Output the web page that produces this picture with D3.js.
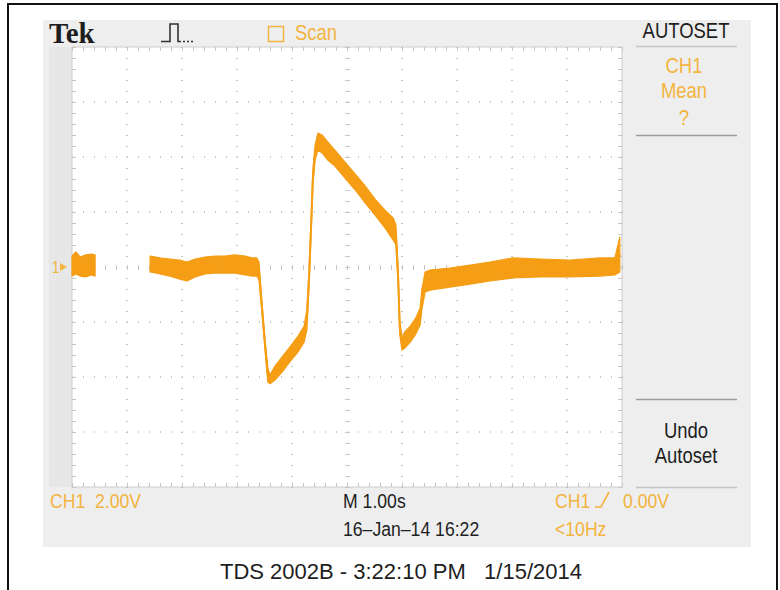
<!DOCTYPE html>
<html>
<head>
<meta charset="utf-8">
<script src="https://cdn.jsdelivr.net/npm/d3@7"></script>
<style>
  html, body { margin: 0; padding: 0; background: #fff; }
  svg { display: block; font-family: "Liberation Sans", Arial, sans-serif; }
</style>
</head>
<body>
<svg id="scope" width="780" height="590"></svg>
<script>
// CH1 trace captured in scan mode: time (s) with the upper / lower edge of the noisy trace (V).
// A null entry marks the blank stretch that the scan has not yet redrawn.
const traceTime = [0.00, 0.07, 0.15, 0.25, 0.35, 0.42, 0.90,
  1.42, 1.60, 1.78, 1.96, 2.09, 2.24, 2.42, 2.60, 2.78, 2.96,
  3.15, 3.27, 3.36, 3.40, 3.45, 3.51, 3.56, 3.60, 3.69, 3.82,
  3.96, 4.11, 4.22, 4.27, 4.31, 4.35, 4.38, 4.42, 4.47, 4.55,
  4.65, 4.78, 4.96, 5.15, 5.33, 5.51, 5.69, 5.84, 5.89, 5.93,
  5.96, 6.00, 6.05, 6.15, 6.25, 6.33, 6.36, 6.42, 6.51, 6.87,
  7.24, 7.60, 8.02, 8.51, 9.05, 9.60, 9.87, 9.96];
const traceHigh = [0.40, 0.55, 0.36, 0.44, 0.47, 0.44, null,
  0.40, 0.33, 0.29, 0.25, 0.18, 0.29, 0.36, 0.40, 0.40, 0.44,
  0.40, 0.33, 0.33, 0.18, -1.20, -2.65, -3.67, -3.93, -3.60, -3.27,
  -2.91, -2.51, -2.15, -1.56, -0.11, 1.89, 3.53, 4.44, 4.87, 4.80,
  4.55, 4.25, 3.82, 3.38, 2.95, 2.47, 2.07, 1.78, 1.53, -0.11,
  -1.93, -2.58, -2.36, -2.15, -1.85, -1.49, -0.84, -0.18, -0.11, -0.04,
  0.07, 0.18, 0.33, 0.29, 0.25, 0.33, 0.33, 1.09];
const traceLow = [-0.33, -0.25, -0.33, -0.36, -0.29, -0.33, null,
  -0.18, -0.25, -0.33, -0.44, -0.51, -0.36, -0.25, -0.22, -0.22, -0.22,
  -0.29, -0.33, -0.33, -0.47, -1.56, -3.02, -4.18, -4.25, -4.11, -3.82,
  -3.45, -3.09, -2.73, -2.29, -0.65, 1.35, 2.98, 3.89, 4.25, 4.15,
  3.89, 3.67, 3.24, 2.80, 2.33, 1.89, 1.42, 0.98, 0.80, -0.65,
  -2.47, -3.02, -2.95, -2.73, -2.44, -2.11, -1.56, -0.91, -0.84, -0.73,
  -0.62, -0.51, -0.40, -0.36, -0.36, -0.33, -0.29, -0.18];

// Screen settings
const timeDomain = [0, 10];      // 1.00 s/div, 10 divisions
const voltDomain = [-8, 8];      // 2.00 V/div, 8 divisions
const divisionsX = 10, divisionsY = 8, minorPerDiv = 5;

// Readout texts
const headerBrand = "Tek";
const headerMode = "Scan";
const menuTitle = "AUTOSET";
const menuMeasure = ["CH1", "Mean", "?"];
const menuUndo = ["Undo", "Autoset"];
const readoutLeft = "CH1  2.00V";
const readoutTime = ["M 1.00s", "16\u2013Jan\u201314 16:22"];
const readoutTrigger = ["CH1", "0.00V", "<10Hz"];
const captionText = "TDS 2002B - 3:22:10 PM   1/15/2014";

const ORANGE = "#f59d14";
const ORANGE_TEXT = "#f3b440";
const INK = "#1e1e1e";

const svg = d3.select("#scope");

const plot = { left: 72, top: 47, right: 622, bottom: 487 };
const x = d3.scaleLinear().domain(timeDomain).range([plot.left, plot.right]);
const y = d3.scaleLinear().domain(voltDomain).range([plot.bottom, plot.top]);

// The instrument's readout font is a narrow sans: squeeze the glyphs horizontally.
function narrowText(parent, px, py, str, size, fill, anchor) {
  return parent.append("text")
    .attr("transform", `translate(${px},${py}) scale(0.84,1)`)
    .attr("font-size", size).attr("fill", fill)
    .attr("text-anchor", anchor || "start")
    .attr("xml:space", "preserve")
    .text(str);
}

// Outer frame
svg.append("path")
  .attr("d", "M8,590 V4 H777 V590")
  .attr("fill", "none").attr("stroke", "#111").attr("stroke-width", 2);

// Instrument panel background
svg.append("rect").attr("x", 43).attr("y", 20).attr("width", 708).attr("height", 527).attr("fill", "#eeeeee");
svg.append("rect").attr("x", 49).attr("y", plot.top).attr("width", plot.left - 49).attr("height", plot.bottom - plot.top).attr("fill", "#e7e7e7");

// Graticule
svg.append("rect")
  .attr("x", plot.left).attr("y", plot.top)
  .attr("width", plot.right - plot.left).attr("height", plot.bottom - plot.top)
  .attr("fill", "#fff").attr("stroke", "#cdcdcd").attr("stroke-width", 1);

const grid = svg.append("g").attr("fill", "#c6c6c6");
const majorT = d3.range(0, divisionsX + 1).map(i => timeDomain[0] + i * (timeDomain[1] - timeDomain[0]) / divisionsX);
const majorV = d3.range(0, divisionsY + 1).map(i => voltDomain[0] + i * (voltDomain[1] - voltDomain[0]) / divisionsY);
const minorT = d3.range(0, divisionsX * minorPerDiv + 1).map(i => timeDomain[0] + i * (timeDomain[1] - timeDomain[0]) / (divisionsX * minorPerDiv));
const minorV = d3.range(0, divisionsY * minorPerDiv + 1).map(i => voltDomain[0] + i * (voltDomain[1] - voltDomain[0]) / (divisionsY * minorPerDiv));
const midT = (timeDomain[0] + timeDomain[1]) / 2, midV = (voltDomain[0] + voltDomain[1]) / 2;

// dotted vertical division lines (centre one carries tick marks)
majorT.slice(1, -1).forEach(t => {
  const long = t === midT;
  minorV.forEach(v => {
    grid.append("rect")
      .attr("x", Math.round(x(t)) - (long ? 2 : 1)).attr("y", Math.round(y(v)))
      .attr("width", long ? 5 : 2).attr("height", 1);
  });
});
// dotted horizontal division lines
majorV.slice(1, -1).forEach(v => {
  const long = v === midV;
  minorT.forEach(t => {
    grid.append("rect")
      .attr("x", Math.round(x(t))).attr("y", Math.round(y(v)) - (long ? 2 : 1))
      .attr("width", 1).attr("height", long ? 5 : 2);
  });
});
// border ticks
minorT.forEach(t => {
  grid.append("rect").attr("x", Math.round(x(t))).attr("y", plot.top).attr("width", 1).attr("height", 4);
  grid.append("rect").attr("x", Math.round(x(t))).attr("y", plot.bottom - 4).attr("width", 1).attr("height", 4);
});
minorV.forEach(v => {
  grid.append("rect").attr("x", plot.left).attr("y", Math.round(y(v))).attr("width", 4).attr("height", 1);
  grid.append("rect").attr("x", plot.right - 4).attr("y", Math.round(y(v))).attr("width", 4).attr("height", 1);
});

// Trace
const trace = traceTime.map((t, i) => ({ t, hi: traceHigh[i], lo: traceLow[i] }));
const band = d3.area()
  .defined(d => d.hi != null)
  .x(d => x(d.t)).y0(d => y(d.lo)).y1(d => y(d.hi));
const mid = d3.line()
  .defined(d => d.hi != null)
  .x(d => x(d.t)).y(d => y((d.hi + d.lo) / 2));
svg.append("path").datum(trace).attr("d", band)
  .attr("fill", ORANGE).attr("stroke", ORANGE).attr("stroke-width", 1.2).attr("stroke-linejoin", "round");
svg.append("path").datum(trace).attr("d", mid)
  .attr("fill", "none").attr("stroke", ORANGE).attr("stroke-width", 2);

// Channel ground marker
const gnd = svg.append("g");
narrowText(gnd, 52, y(0) + 6, "1", 16, ORANGE_TEXT);
gnd.append("path").attr("d", `M60,${y(0) - 4} L67,${y(0)} L60,${y(0) + 4} Z`).attr("fill", ORANGE_TEXT);

// Header
svg.append("text").attr("x", 49).attr("y", 43)
  .attr("font-family", "Liberation Serif, serif").attr("font-weight", "bold")
  .attr("font-size", 29).attr("fill", INK).text(headerBrand);
svg.append("path")
  .attr("d", "M161,41.5 H170 V24 H178 V41.5 H181 M183,41.5 h2 M187,41.5 h2 M191,41.5 h2")
  .attr("fill", "none").attr("stroke", "#333").attr("stroke-width", 1.6);
svg.append("rect").attr("x", 268.5).attr("y", 26.5).attr("width", 15).attr("height", 15)
  .attr("fill", "none").attr("stroke", ORANGE_TEXT).attr("stroke-width", 1.5);
narrowText(svg, 295, 40, headerMode, 22, ORANGE_TEXT);

// Side menu
const menuX = 686;
const menu = svg.append("g");
narrowText(menu, menuX, 38, menuTitle, 22, INK, "middle");
menuMeasure.forEach((s, i) => {
  narrowText(menu, menuX - 2, [73, 98, 125][i], s, 22, ORANGE_TEXT, "middle");
});
menuUndo.forEach((s, i) => {
  narrowText(menu, menuX, [438, 463][i], s, 22, INK, "middle");
});
[[46.5, "#c4c4c4"], [135.5, "#9a9a9a"], [399.5, "#9a9a9a"], [487.5, "#c4c4c4"]].forEach(([yy, c]) => {
  svg.append("line").attr("x1", 636).attr("x2", 737).attr("y1", yy).attr("y2", yy)
    .attr("stroke", c).attr("stroke-width", 1.5);
});

// Bottom readouts
const ro = svg.append("g");
narrowText(ro, 50, 508, readoutLeft, 21, ORANGE_TEXT);
narrowText(ro, 343, 508, readoutTime[0], 21, INK);
narrowText(ro, 343, 536, readoutTime[1], 21, INK);
narrowText(ro, 555, 508, readoutTrigger[0], 21, ORANGE_TEXT);
ro.append("path").attr("d", "M595,507 H601 L609,492")
  .attr("fill", "none").attr("stroke", ORANGE_TEXT).attr("stroke-width", 1.6);
narrowText(ro, 623, 508, readoutTrigger[1], 21, ORANGE_TEXT);
narrowText(ro, 555, 536, readoutTrigger[2], 21, ORANGE_TEXT);

// Caption
svg.append("text").attr("x", 401).attr("y", 579).attr("text-anchor", "middle")
  .attr("font-size", 22)
  .attr("fill", INK).attr("xml:space", "preserve").text(captionText);
</script>
</body>
</html>
